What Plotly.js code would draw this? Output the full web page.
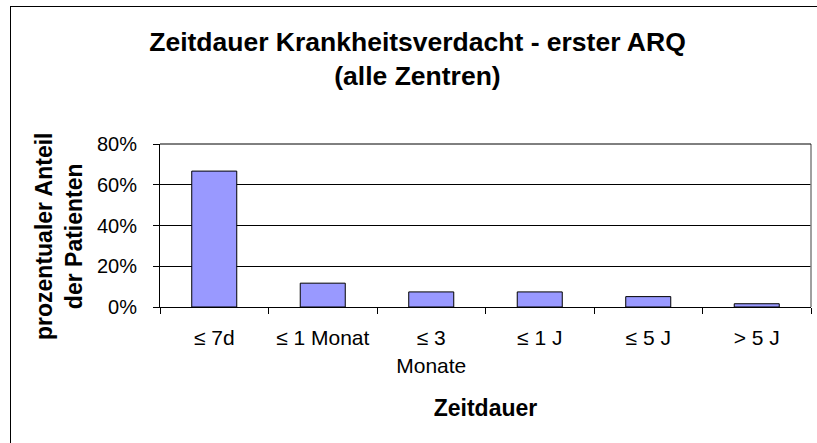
<!DOCTYPE html>
<html>
<head>
<meta charset="utf-8">
<script src="https://cdn.plot.ly/plotly-3.0.1.min.js"></script>
<style>
  html, body { margin: 0; padding: 0; background: #fff; }
  #wrap { position: relative; width: 817px; height: 443px; overflow: hidden; }
  #frame { position: absolute; left: 10px; top: 6px; width: 900px; height: 500px;
           border-left: 1px solid #000; border-top: 1px solid #000; pointer-events: none; }
  #chart { position: absolute; left: 0; top: 0; width: 817px; height: 443px; }
</style>
</head>
<body>
<div id="wrap">
  <div id="chart"></div>
  <div id="frame"></div>
</div>
<script>
const categories = ["≤ 7d", "≤ 1 Monat", "≤ 3<br>Monate", "≤ 1 J", "≤ 5 J", "> 5 J"];
const values = [66.7, 11.7, 7.4, 7.4, 5.1, 1.6];
const yTickValues = [0, 20, 40, 60, 80];
const yTickLabels = ["0%", "20%", "40%", "60%", "80%"];
const yTitle = "<b>prozentualer Anteil<br>der Patienten</b>";

const trace = {
  type: "bar",
  x: categories,
  y: values,
  marker: { color: "#9999FF", line: { color: "#000000", width: 1 } },
  hoverinfo: "skip"
};

const font = "Liberation Sans, Arial, sans-serif";

const layout = {
  width: 817,
  height: 443,
  margin: { l: 160, r: 6, t: 144, b: 136, pad: 0 },
  paper_bgcolor: "rgba(0,0,0,0)",
  plot_bgcolor: "#ffffff",
  showlegend: false,
  bargap: 0.585,
  font: { family: font, color: "#000" },
  title: {
    text: "<b>Zeitdauer Krankheitsverdacht - erster ARQ<br>(alle Zentren)</b>",
    font: { family: font, size: 26.5, color: "#000" },
    x: 0.511, xanchor: "center", xref: "container",
    y: 0.886, yanchor: "top", yref: "container"
  },
  xaxis: {
    type: "category",
    showline: true, linecolor: "#000", linewidth: 1,
    ticks: "outside", tickson: "boundaries", ticklen: 6, tickcolor: "#000",
    ticklabelstandoff: 12,
    tickfont: { family: font, size: 21, color: "#000" },
    showgrid: false, zeroline: false,
    title: { text: "<b>Zeitdauer</b>", font: { family: font, size: 23, color: "#000" }, standoff: 24 }
  },
  yaxis: {
    range: [0, 80],
    tickmode: "array",
    tickvals: yTickValues,
    ticktext: yTickLabels,
    showline: true, linecolor: "#000", linewidth: 1,
    ticks: "outside", ticklen: 6, tickcolor: "#000",
    ticklabelstandoff: 12,
    tickfont: { family: font, size: 20, color: "#000" },
    showgrid: true, gridcolor: "#000", gridwidth: 1,
    zeroline: false
  },
  annotations: [
    { text: yTitle, textangle: -90, showarrow: false,
      xref: "paper", yref: "paper",
      x: (59 - 160) / 651, xanchor: "center",
      y: (307 - 236) / 163, yanchor: "middle",
      font: { family: font, size: 23, color: "#000" } }
  ],
  shapes: [
    { type: "line", xref: "paper", yref: "paper", x0: 1, x1: 1, y0: 0, y1: 1,
      line: { color: "#808080", width: 1.5 } },
    { type: "line", xref: "paper", yref: "paper", x0: 0, x1: 1, y0: 1, y1: 1,
      line: { color: "#000000", width: 1 } }
  ]
};

Plotly.newPlot("chart", [trace], layout, { staticPlot: true, displayModeBar: false });
</script>
</body>
</html>
